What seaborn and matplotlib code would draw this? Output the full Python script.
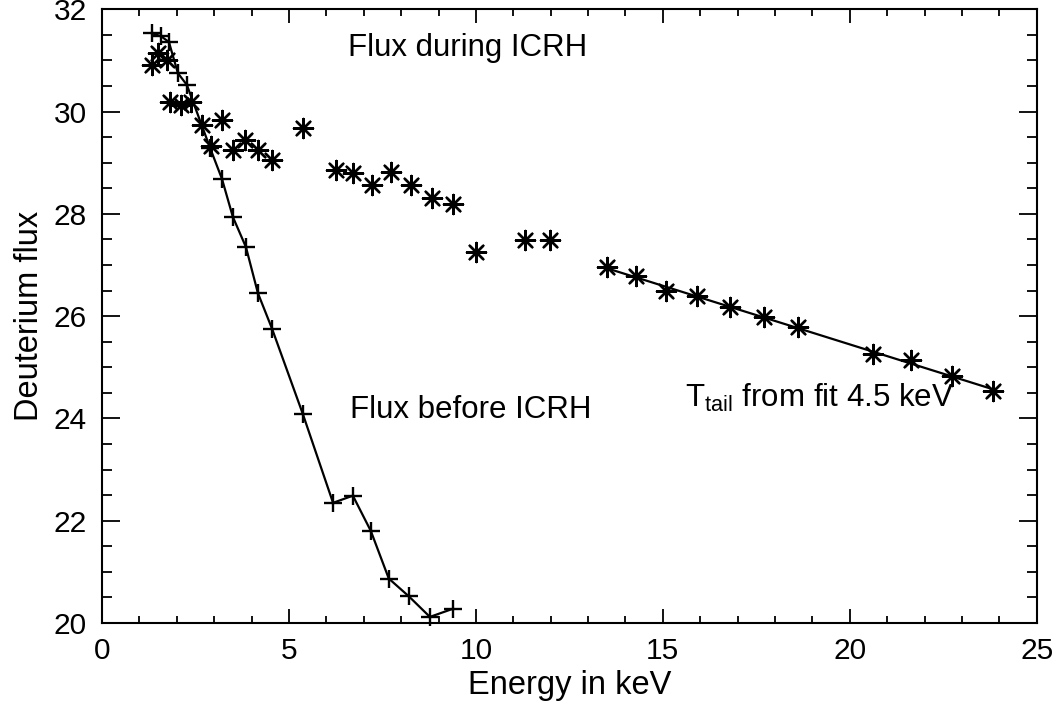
import numpy as np
import pandas as pd
import matplotlib
matplotlib.use("Agg")
import matplotlib.pyplot as plt
from matplotlib.ticker import MultipleLocator
import seaborn as sns

# Deuterium flux before ICRH (connected "+" markers)
before_energy = [1.34, 1.58, 1.79, 2.03, 2.27, 2.89, 3.21, 3.50, 3.85, 4.17,
                 4.55, 5.37, 6.18, 6.71, 7.19, 7.67, 8.21, 8.77, 9.39]
before_flux = [31.53, 31.47, 31.36, 30.75, 30.52, 29.29, 28.68, 27.94, 27.35, 26.45,
               25.75, 24.09, 22.35, 22.49, 21.80, 20.87, 20.52, 20.12, 20.28]

# Deuterium flux during ICRH (asterisk markers)
during_energy = [1.34, 1.50, 1.74, 1.82, 2.11, 2.38, 2.67, 3.21, 2.91, 3.50,
                 3.82, 4.17, 4.55, 5.37, 6.26, 6.71, 7.22, 7.73, 8.26, 8.82,
                 9.39, 10.00, 11.31, 11.98, 13.50, 14.28, 15.08, 15.91, 16.79,
                 17.70, 18.61, 20.61, 21.63, 22.73, 23.82]
during_flux = [30.91, 31.14, 31.00, 30.18, 30.13, 30.18, 29.73, 29.83, 29.32, 29.25,
               29.44, 29.25, 29.05, 29.68, 28.86, 28.80, 28.56, 28.82, 28.56, 28.31,
               28.19, 27.25, 27.49, 27.49, 26.96, 26.79, 26.49, 26.39, 26.18,
               25.98, 25.79, 25.26, 25.14, 24.83, 24.54]

# Energy above which the tail is fitted with a straight line
tail_start = 13.0

x_ticks = [0, 5, 10, 15, 20, 25]
y_ticks = [20, 22, 24, 26, 28, 30, 32]

sns.set_style("ticks")
plt.rcParams["font.family"] = ["Liberation Sans", "DejaVu Sans"]
plt.rcParams["mathtext.fontset"] = "custom"
plt.rcParams["mathtext.rm"] = "Liberation Sans"
for key in ("text.color", "axes.labelcolor", "xtick.color", "ytick.color",
            "axes.edgecolor"):
    plt.rcParams[key] = "black"

before = pd.DataFrame({"energy": before_energy, "flux": before_flux})
during = pd.DataFrame({"energy": during_energy, "flux": during_flux})
tail = during[during["energy"] >= tail_start]
slope, intercept = np.polyfit(tail["energy"], tail["flux"], 1)
fit = pd.DataFrame({"energy": [tail["energy"].min(), tail["energy"].max()]})
fit["flux"] = slope * fit["energy"] + intercept

fig = plt.figure(figsize=(10.59, 7.08), dpi=100)
ax = fig.add_axes([0.0963, 0.12, 0.8827, 0.867])

sns.lineplot(data=before, x="energy", y="flux", sort=False, estimator=None,
             color="black", linewidth=1.6, marker="+", markersize=13,
             markeredgewidth=1.7, markeredgecolor="black", ax=ax, clip_on=False)
sns.lineplot(data=fit, x="energy", y="flux", color="black", linewidth=1.6, ax=ax)
sns.scatterplot(data=during, x="energy", y="flux", marker=(8, 2, 0), s=190,
                color="black", edgecolor="black", linewidth=1.7, ax=ax, zorder=3)

ax.set_xlim(0, 25)
ax.set_ylim(20, 32)
ax.set_xticks(x_ticks)
ax.set_yticks(y_ticks)
ax.xaxis.set_minor_locator(MultipleLocator(1))
ax.yaxis.set_minor_locator(MultipleLocator(0.5))
ax.tick_params(axis="both", which="both", direction="in", top=True, right=True,
               labelsize=21.5, width=1.3, colors="black")
ax.tick_params(axis="y", which="major", length=13, pad=11)
ax.tick_params(axis="y", which="minor", length=7)
ax.tick_params(axis="x", which="major", length=10, pad=10)
ax.tick_params(axis="x", which="minor", length=5)
for side in ax.spines.values():
    side.set_linewidth(1.5)
    side.set_color("black")

ax.set_xlabel("Energy in keV", fontsize=23.5, labelpad=4)
ax.set_ylabel("Deuterium flux", fontsize=23.5, labelpad=6)

ax.text(6.58, 31.25, "Flux during ICRH", fontsize=22.5, ha="left", va="center")
ax.text(6.63, 24.17, "Flux before ICRH", fontsize=22.5, ha="left", va="center")
ax.text(15.59, 24.4, r"T$_{\mathrm{tail}}$ from fit 4.5 keV", fontsize=22.5,
        ha="left", va="center")

fig.savefig("out.png", dpi=100)
